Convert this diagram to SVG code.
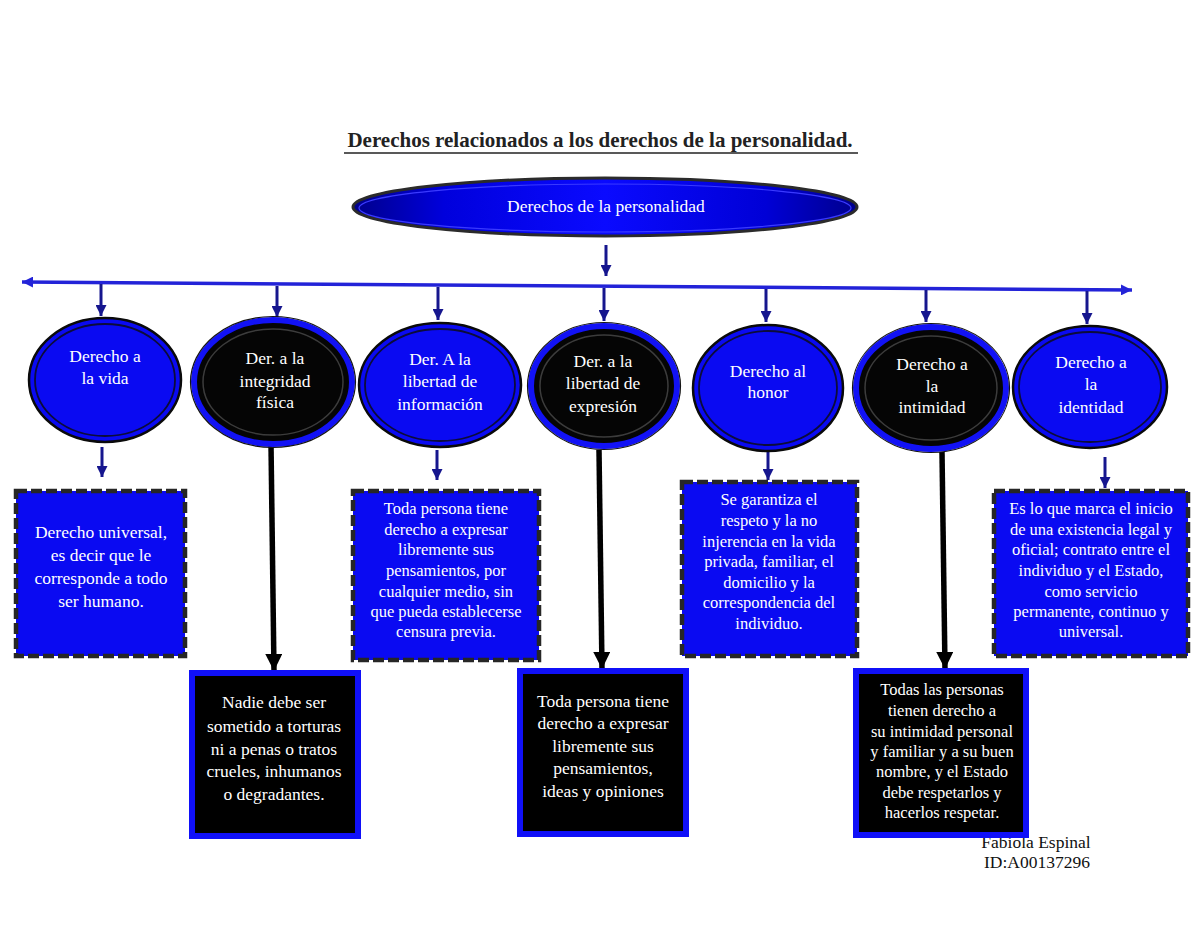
<svg xmlns="http://www.w3.org/2000/svg" width="1200" height="927" viewBox="0 0 1200 927">
<style>
text{font-family:"Liberation Serif","Times New Roman",serif;fill:#fff;text-anchor:middle}
.title{font-size:21px;font-weight:bold;fill:#222}
.ot{font-size:17.5px}
.bt{font-size:17.5px}
.st{font-size:16.5px}
.foot{font-size:17.5px;fill:#111}
.boval{fill:#0a0af2;stroke:#0a0a0a;stroke-width:2.5}
.bring{fill:none;stroke:#0c0c3a;stroke-width:1.8}
.koval{fill:#050505;stroke:#1212f5;stroke-width:6}
.kedge{fill:none;stroke:#151515;stroke-width:1.2}
.kring{fill:none;stroke:#3c3c3c;stroke-width:1.5}
.dbox{fill:#0a0af2;stroke:#262626;stroke-width:4.5;stroke-dasharray:11 4}
.kbox{fill:#000;stroke:#1010f8;stroke-width:6}
.ba{stroke:#16168e;stroke-width:3;fill:none;marker-end:url(#mb)}
.ka{stroke:#000;stroke-width:5.5;fill:none;marker-end:url(#mk)}
</style>
<defs>
<linearGradient id="g1" x1="0" y1="0" x2="1" y2="0">
<stop offset="0" stop-color="#00008a"/>
<stop offset="0.18" stop-color="#0000dc"/>
<stop offset="0.5" stop-color="#0a0aff"/>
<stop offset="0.82" stop-color="#0000d6"/>
<stop offset="1" stop-color="#00008c"/>
</linearGradient>
<marker id="mb" viewBox="0 0 10 10" refX="10" refY="5" markerUnits="userSpaceOnUse" markerWidth="11" markerHeight="11" orient="auto"><path d="M0,0 L10,5 L0,10 z" fill="#16168e"/></marker>
<marker id="mk" viewBox="0 0 10 10" refX="10" refY="5" markerUnits="userSpaceOnUse" markerWidth="17" markerHeight="17" orient="auto"><path d="M0,0 L10,5 L0,10 z" fill="#000"/></marker>
<marker id="mh" viewBox="0 0 10 10" refX="10" refY="5" markerUnits="userSpaceOnUse" markerWidth="11" markerHeight="11" orient="auto-start-reverse"><path d="M0,0 L10,5 L0,10 z" fill="#2323d8"/></marker>
</defs>
<rect width="1200" height="927" fill="#fff"/>

<g id="title">
<text class="title" x="600" y="147">Derechos relacionados a los derechos de la personalidad.</text>
<line x1="344" y1="153" x2="858" y2="153" stroke="#222" stroke-width="1.6"/>
</g>

<g id="footer">
<text class="foot" x="1036" y="848">Fabiola Espinal</text>
<text class="foot" x="1037" y="868">ID:A00137296</text>
</g>

<g id="connectors">
<line x1="22" y1="282" x2="1132" y2="290" stroke="#2323d8" stroke-width="3.5" marker-start="url(#mh)" marker-end="url(#mh)"/>
<line class="ba" x1="606" y1="245" x2="606" y2="276"/>
<line class="ba" x1="101" y1="284" x2="101" y2="316"/>
<line class="ba" x1="277" y1="286" x2="277" y2="317"/>
<line class="ba" x1="438" y1="287" x2="438" y2="320"/>
<line class="ba" x1="604" y1="288" x2="604" y2="321"/>
<line class="ba" x1="766" y1="289" x2="766" y2="322"/>
<line class="ba" x1="926" y1="290" x2="926" y2="322"/>
<line class="ba" x1="1087" y1="291" x2="1087" y2="324"/>
<line class="ba" x1="102" y1="447" x2="102" y2="477"/>
<line class="ba" x1="437" y1="450" x2="437" y2="480"/>
<line class="ba" x1="768" y1="450" x2="768" y2="480"/>
<line class="ba" x1="1105" y1="457" x2="1105" y2="488"/>
<line class="ka" x1="271" y1="444" x2="274" y2="671"/>
<line class="ka" x1="599" y1="450" x2="602" y2="669"/>
<line class="ka" x1="942" y1="452" x2="945" y2="669"/>
</g>

<g id="n-root">
<ellipse cx="605" cy="207" rx="252" ry="29" fill="url(#g1)" stroke="#2b2b2b" stroke-width="3"/>
<ellipse cx="605" cy="208" rx="246" ry="24" fill="none" stroke="#3a3aff" stroke-width="1.2"/>
<text x="606" y="212" style="font-size:17.5px">Derechos de la personalidad</text>
</g>

<g id="n-vida">
<ellipse class="boval" cx="105" cy="380" rx="76" ry="62"/>
<ellipse class="bring" cx="105" cy="380" rx="70" ry="56"/>
<text class="ot" x="105" y="362">Derecho a</text>
<text class="ot" x="105" y="384">la vida</text>
</g>

<g id="n-integridad">
<ellipse class="koval" cx="273" cy="382" rx="79" ry="62"/>
<ellipse class="kedge" cx="273" cy="382" rx="82.5" ry="65.5"/>
<ellipse class="kring" cx="273" cy="382" rx="70" ry="53"/>
<text class="ot" x="275" y="364">Der. a la</text>
<text class="ot" x="275" y="387">integridad</text>
<text class="ot" x="275" y="408">física</text>
</g>

<g id="n-informacion">
<ellipse class="boval" cx="440" cy="385" rx="81" ry="62"/>
<ellipse class="bring" cx="440" cy="385" rx="75" ry="56"/>
<text class="ot" x="440" y="365">Der. A la</text>
<text class="ot" x="440" y="387">libertad de</text>
<text class="ot" x="440" y="410">información</text>
</g>

<g id="n-expresion">
<ellipse class="koval" cx="604" cy="386" rx="73" ry="60"/>
<ellipse class="kedge" cx="604" cy="386" rx="76.5" ry="63.5"/>
<ellipse class="kring" cx="604" cy="386" rx="64" ry="51"/>
<text class="ot" x="603" y="367">Der. a la</text>
<text class="ot" x="603" y="389">libertad de</text>
<text class="ot" x="603" y="412">expresión</text>
</g>

<g id="n-honor">
<ellipse class="boval" cx="768" cy="388" rx="75" ry="63"/>
<ellipse class="bring" cx="768" cy="388" rx="69" ry="57"/>
<text class="ot" x="768" y="377">Derecho al</text>
<text class="ot" x="768" y="398">honor</text>
</g>

<g id="n-intimidad">
<ellipse class="koval" cx="931" cy="388" rx="75" ry="61"/>
<ellipse class="kedge" cx="931" cy="388" rx="78.5" ry="64.5"/>
<ellipse class="kring" cx="931" cy="388" rx="66" ry="52"/>
<text class="ot" x="932" y="370">Derecho a</text>
<text class="ot" x="932" y="392">la</text>
<text class="ot" x="932" y="413">intimidad</text>
</g>

<g id="n-identidad">
<ellipse class="boval" cx="1090" cy="387" rx="77" ry="61"/>
<ellipse class="bring" cx="1090" cy="387" rx="71" ry="55"/>
<text class="ot" x="1091" y="368">Derecho a</text>
<text class="ot" x="1091" y="390">la</text>
<text class="ot" x="1091" y="413">identidad</text>
</g>

<g id="b-vida">
<rect class="dbox" x="16" y="491" width="169" height="165"/>
<text class="bt" x="101" y="538">Derecho universal,</text>
<text class="bt" x="101" y="561">es decir que le</text>
<text class="bt" x="101" y="584">corresponde a todo</text>
<text class="bt" x="101" y="607">ser humano.</text>
</g>

<g id="b-informacion">
<rect class="dbox" x="353" y="491" width="186" height="169"/>
<text class="st" x="446" y="514">Toda persona tiene</text>
<text class="st" x="446" y="535">derecho a expresar</text>
<text class="st" x="446" y="555">libremente sus</text>
<text class="st" x="446" y="576">pensamientos, por</text>
<text class="st" x="446" y="597">cualquier medio, sin</text>
<text class="st" x="446" y="617">que pueda establecerse</text>
<text class="st" x="446" y="637">censura previa.</text>
</g>

<g id="b-honor">
<rect class="dbox" x="682" y="482" width="175" height="174"/>
<text class="st" x="769" y="505">Se garantiza el</text>
<text class="st" x="769" y="526">respeto y la no</text>
<text class="st" x="769" y="547">injerencia en la vida</text>
<text class="st" x="769" y="567">privada, familiar, el</text>
<text class="st" x="769" y="588">domicilio y la</text>
<text class="st" x="769" y="608">correspondencia del</text>
<text class="st" x="769" y="629">individuo.</text>
</g>

<g id="b-identidad">
<rect class="dbox" x="994" y="491" width="194" height="165"/>
<text class="st" x="1091" y="514">Es lo que marca el inicio</text>
<text class="st" x="1091" y="535">de una existencia legal y</text>
<text class="st" x="1091" y="555">oficial; contrato entre el</text>
<text class="st" x="1091" y="576">individuo y el Estado,</text>
<text class="st" x="1091" y="597">como servicio</text>
<text class="st" x="1091" y="617">permanente, continuo y</text>
<text class="st" x="1091" y="637">universal.</text>
</g>

<g id="b-integridad">
<rect class="kbox" x="192" y="673" width="166" height="163"/>
<text class="bt" x="274" y="708">Nadie debe ser</text>
<text class="bt" x="274" y="732">sometido a torturas</text>
<text class="bt" x="274" y="755">ni a penas o tratos</text>
<text class="bt" x="274" y="777">crueles, inhumanos</text>
<text class="bt" x="274" y="800">o degradantes.</text>
</g>

<g id="b-expresion">
<rect class="kbox" x="520" y="671" width="166" height="163"/>
<text class="bt" x="603" y="707">Toda persona tiene</text>
<text class="bt" x="603" y="729">derecho a expresar</text>
<text class="bt" x="603" y="752">libremente sus</text>
<text class="bt" x="603" y="774">pensamientos,</text>
<text class="bt" x="603" y="797">ideas y opiniones</text>
</g>

<g id="b-intimidad">
<rect class="kbox" x="856" y="671" width="170" height="164"/>
<text class="st" x="942" y="695">Todas las personas</text>
<text class="st" x="942" y="716">tienen derecho a</text>
<text class="st" x="942" y="737">su intimidad personal</text>
<text class="st" x="942" y="757">y familiar y a su buen</text>
<text class="st" x="942" y="777">nombre, y el Estado</text>
<text class="st" x="942" y="798">debe respetarlos y</text>
<text class="st" x="942" y="818">hacerlos respetar.</text>
</g>
</svg>
